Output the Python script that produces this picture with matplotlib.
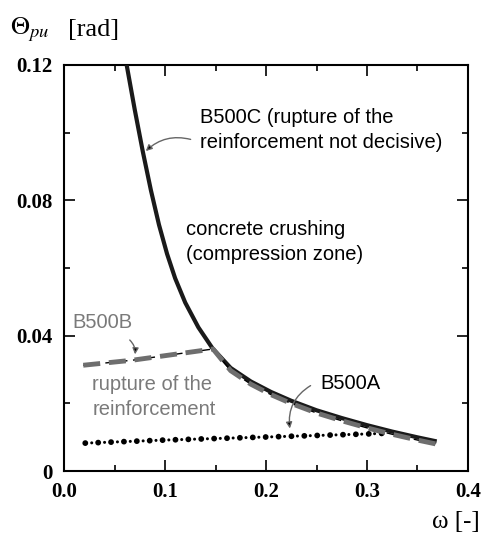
import matplotlib
matplotlib.use('Agg')
import matplotlib.pyplot as plt

plt.rcParams['mathtext.fontset'] = 'stix'

# B500C / concrete crushing curve
omega_c = [0.062, 0.070, 0.078, 0.086, 0.094, 0.102, 0.110, 0.120, 0.133, 0.147,
           0.165, 0.185, 0.205, 0.225, 0.250, 0.275, 0.300, 0.325, 0.350, 0.369]
theta_c = [0.120, 0.1068, 0.0944, 0.0830, 0.0728, 0.0642, 0.0570, 0.0498, 0.0425, 0.0363,
           0.0305, 0.0265, 0.0234, 0.0208, 0.0180, 0.0157, 0.0136, 0.0117, 0.0100, 0.0088]

# B500B
omega_b = [0.019, 0.068, 0.1475, 0.165, 0.185, 0.205, 0.225, 0.250, 0.275, 0.300,
           0.325, 0.350, 0.369]
theta_b = [0.0313, 0.0328, 0.0361, 0.0297, 0.0257, 0.0226, 0.0200, 0.0172, 0.0149, 0.0128,
           0.0109, 0.0092, 0.0080]

# B500A
omega_a = [0.021, 0.10, 0.20, 0.30, 0.318]
theta_a = [0.0083, 0.0092, 0.0101, 0.0110, 0.0112]

xticks = [0.0, 0.1, 0.2, 0.3, 0.4]
xlabels = ['0.0', '0.1', '0.2', '0.3', '0.4']
yticks = [0.0, 0.04, 0.08, 0.12]
ylabels = ['0', '0.04', '0.08', '0.12']

fig = plt.figure(figsize=(4.89, 5.46), dpi=100)
ax = fig.add_axes([0.131, 0.137, 0.826, 0.744])

ax.plot(omega_c, theta_c, color='#1a1a1a', lw=3.0, solid_capstyle='butt',
        solid_joinstyle='round', zorder=3)
ax.plot(omega_b, theta_b, color='black', lw=1.0, ls=(4, (6, 4)), zorder=4)
ax.plot(omega_b, theta_b, color='#6e6e6e', lw=3.5, ls=(0, (3.5, 1.8)), zorder=5)
# B500A: big dots with small dots in between
ax.plot(omega_a, theta_a, color='black', lw=4.2, ls=(0, (0.01, 2.2)),
        dash_capstyle='round', zorder=4)
ax.plot(omega_a, theta_a, color='black', lw=2.2, ls=(2.1, (0.01, 4.2)),
        dash_capstyle='round', zorder=4)

ax.set_xlim(0, 0.4)
ax.set_ylim(0, 0.12)
ax.set_xticks(xticks)
ax.set_xticklabels(xlabels)
ax.set_yticks(yticks)
ax.set_yticklabels(ylabels)
ax.set_xticks([0.05, 0.15, 0.25, 0.35], minor=True)
ax.set_yticks([0.02, 0.06, 0.10], minor=True)
ax.tick_params(which='both', direction='in', top=True, right=True, width=1.2)
ax.tick_params(which='major', length=8, pad=8)
ax.tick_params(which='minor', length=4.5)
for lab in ax.get_xticklabels() + ax.get_yticklabels():
    lab.set_family('Liberation Serif')
    lab.set_weight('bold')
    lab.set_size(15)
for s in ax.spines.values():
    s.set_linewidth(1.5)

sans = 'Liberation Sans'
fs = 14.5
ax.text(0.1347, 0.1008, 'B500C (rupture of the\nreinforcement not decisive)',
        family=sans, size=fs, va='center', ha='left', linespacing=1.45)
ax.text(0.121, 0.0677, 'concrete crushing\n(compression zone)',
        family=sans, size=fs, va='center', ha='left', linespacing=1.45)
ax.text(0.008, 0.0440, 'B500B', family=sans, size=fs, color='#7a7a7a',
        va='center', ha='left')
ax.text(0.028, 0.0219, 'rupture of the\nreinforcement', family=sans, size=fs,
        color='#7a7a7a', va='center', ha='left', linespacing=1.45)
ax.text(0.2535, 0.0260, 'B500A', family=sans, size=fs, va='center', ha='left')

arrow = dict(arrowstyle='-|>', ec='#666666', fc='black', lw=1.0, mutation_scale=9)
ax.annotate('', xy=(0.079, 0.094), xytext=(0.128, 0.0978),
            arrowprops=dict(arrow, connectionstyle='arc3,rad=0.3'))
ax.annotate('', xy=(0.070, 0.0337), xytext=(0.063, 0.0393),
            arrowprops=dict(arrow, connectionstyle='arc3,rad=-0.3'))
ax.annotate('', xy=(0.224, 0.0118), xytext=(0.2465, 0.0257),
            arrowprops=dict(arrow, connectionstyle='arc3,rad=0.35'))

fig.text(0.02, 0.945, r'$\Theta_{pu}$', family='Liberation Serif', size=19,
         va='center', ha='left')
fig.text(0.139, 0.945, '[rad]', family='Liberation Serif', size=19,
         va='center', ha='left')
fig.text(0.982, 0.044, r'ω [-]', family='Liberation Serif', size=18,
         va='center', ha='right')

fig.savefig('out.png', dpi=100)
